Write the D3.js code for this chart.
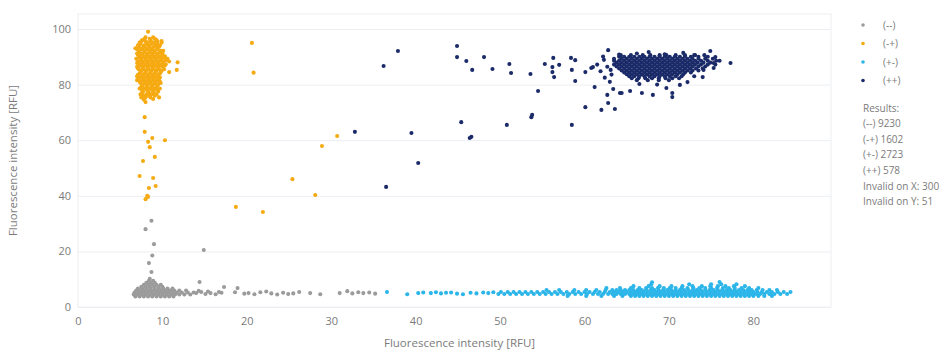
<!DOCTYPE html>
<html>
<head>
<meta charset="utf-8">
<script src="https://d3js.org/d3.v7.min.js"></script>
<style>
    body { margin: 0; background: #fff; }
    text { font-family: "Open Sans", sans-serif; fill: #7b7b7b; }
    .grid line { stroke: #eceef2; stroke-width: 1px; }
    .grid path { display: none; }
    .axis path, .axis line { display: none; }
    .axis text { font-size: 11px; fill: #7b7b7b; }
</style>
</head>
<body>
<svg id="chart" width="948" height="351"></svg>

<script>

// ---- data ----
const xTicks = [0, 10, 20, 30, 40, 50, 60, 70, 80];
const yTicks = [0, 20, 40, 60, 80, 100];
const axisTitle = "Fluorescence intensity [RFU]";

const groups = ["(--)", "(-+)", "(+-)", "(++)"];
const groupColors = ["#9b9b9b", "#f6aa12", "#2bb5e9", "#1b2a68"];
const results = ["Results:", "(--) 9230", "(-+) 1602", "(+-) 2723", "(++) 578",
                 "Invalid on X: 300", "Invalid on Y: 51"];

// dense clusters, as rows: [y, [x, x, ...]]
const grayRows = [
    [3.8, [6.8, 7.3, 7.8, 8.3, 8.8, 9.3, 9.8, 10.3, 10.8, 11.3]],
    [4.5, [6.6, 7.0, 7.5, 8.0, 8.5, 9.0, 9.5, 10.0, 10.5, 11.0, 11.5, 12.0, 12.6, 13.3]],
    [5.2, [6.7, 7.2, 7.7, 8.2, 8.7, 9.2, 9.7, 10.2, 10.7, 11.2, 11.7, 12.3, 13.0, 13.7]],
    [5.9, [6.9, 7.4, 7.9, 8.4, 8.9, 9.4, 9.9, 10.4, 10.9, 11.4, 12.0, 12.8]],
    [6.6, [7.1, 7.6, 8.1, 8.6, 9.1, 9.6, 10.1, 10.6, 11.2]],
    [7.3, [7.5, 8.0, 8.5, 9.0, 9.5, 10.0]],
    [8.0, [7.8, 8.3, 8.8, 9.3, 9.8]],
    [8.7, [8.1, 8.6, 9.1]],
    [9.4, [8.4, 8.9]]
];
const grayPoints = [
    [8.7, 31], [8.0, 28], [9.0, 22.6], [8.8, 18.5], [8.4, 15.8], [8.7, 12.6],
    [14.9, 20.5], [14.4, 9], [17.3, 7.2], [18.9, 6.8], [8.5, 10.1],
    [14.0, 5.0], [14.6, 5.4], [15.1, 4.7], [15.7, 5.0], [16.3, 4.6], [17.0, 5.1],
    [18.6, 5.3], [19.7, 4.8], [20.2, 5.0], [20.9, 4.6], [21.6, 5.3], [22.3, 5.6],
    [22.9, 4.9], [23.6, 4.5], [24.3, 5.1], [24.9, 4.7], [25.5, 4.9], [26.2, 5.4],
    [27.5, 5.0], [28.7, 4.6], [31.0, 5.0], [31.9, 5.7], [32.5, 4.9], [33.2, 5.3],
    [33.8, 5.0], [34.5, 5.2], [35.2, 4.8], [14.3, 5.8], [15.4, 5.6], [16.7, 5.4]
];

const blueRows = [
    [4.0, [58.0, 60.2, 62.0, 63.5, 64.5, 65.5, 66.0, 66.5, 67.0, 67.5, 68.0, 68.5, 69.0,
           69.5, 70.0, 70.5, 71.0, 71.5, 72.0, 72.5, 73.0, 73.5, 74.0, 74.5, 75.0, 75.5,
           76.0, 76.5, 77.0, 77.5, 78.0, 78.5, 79.0, 79.5, 80.0, 80.6, 81.3, 82.2]],
    [4.7, [49.8, 50.5, 51.2, 51.9, 52.6, 53.3, 54.0, 54.7, 55.4, 56.1, 56.8, 57.5, 58.2,
           58.9, 59.6, 60.3, 61.0, 61.6, 62.2, 62.8, 63.3, 63.8, 64.3, 64.8, 65.3, 65.8,
           66.3, 66.8, 67.3, 67.8, 68.3, 68.8, 69.3, 69.8, 70.3, 70.8, 71.3, 71.8, 72.3,
           72.8, 73.3, 73.8, 74.3, 74.8, 75.3, 75.8, 76.3, 76.8, 77.3, 77.8, 78.3, 78.8,
           79.3, 79.8, 80.3, 80.8, 81.3, 81.9, 82.5, 83.2, 84.0]],
    [5.4, [50.1, 50.9, 51.6, 52.3, 53.0, 53.7, 54.4, 55.1, 55.8, 56.5, 57.2, 57.9, 58.6,
           59.3, 60.0, 60.6, 61.2, 61.8, 62.4, 63.0, 63.5, 64.0, 64.5, 65.0, 65.5, 66.0,
           66.5, 67.0, 67.5, 68.0, 68.5, 69.0, 69.5, 70.0, 70.5, 71.0, 71.5, 72.0, 72.5,
           73.0, 73.5, 74.0, 74.5, 75.0, 75.5, 76.0, 76.5, 77.0, 77.5, 78.0, 78.5, 79.0,
           79.5, 80.0, 80.5, 81.0, 81.6, 82.2, 82.9, 83.6, 84.4]],
    [6.1, [55.5, 57.0, 58.8, 60.2, 61.4, 62.5, 63.3, 63.8, 64.3, 64.8, 65.3, 65.8, 66.3,
           66.8, 67.3, 67.8, 68.3, 68.8, 69.3, 69.8, 70.3, 70.8, 71.3, 71.8, 72.3, 72.8,
           73.3, 73.8, 74.3, 74.8, 75.3, 75.8, 76.3, 76.8, 77.3, 77.8, 78.3, 78.8, 79.3,
           79.8, 80.4, 81.1, 81.9, 82.8]],
    [6.8, [62.6, 64.2, 65.5, 66.5, 67.3, 68.0, 68.7, 69.4, 70.1, 70.8, 71.5, 72.2, 72.9,
           73.6, 74.3, 75.0, 75.7, 76.4, 77.1, 77.8, 78.6, 79.5, 80.6]],
    [7.5, [65.8, 67.6, 68.9, 70.3, 71.6, 72.8, 73.9, 74.9, 75.8, 76.7, 77.7, 79.0]],
    [8.2, [67.9, 72.4, 75.0, 76.2, 78.0]]
];
const bluePoints = [
    [36.6, 5.4], [39.0, 4.6], [40.3, 5.0], [40.9, 5.2], [41.8, 5.0], [42.4, 5.3],
    [43.0, 4.9], [43.6, 5.1], [44.2, 5.2], [44.9, 4.8], [45.6, 4.6], [46.5, 5.1],
    [47.2, 4.9], [48.0, 5.2], [48.6, 5.0], [49.2, 5.3], [68.0, 8.9], [76.0, 9.0]
];

const orangeRows = [
    [97.0, [8.0, 8.9]],
    [96.5, [7.9, 8.5, 9.1]],
    [96.0, [7.6, 8.6, 9.3]],
    [95.6, [7.5, 8.0, 8.6, 9.4]],
    [95.1, [7.3, 8.2, 9.0, 9.9]],
    [94.6, [7.4, 8.1, 8.7, 9.4]],
    [94.1, [7.1, 7.8, 8.4, 9.2, 9.7]],
    [93.6, [7.2, 7.8, 8.4, 9.0, 9.6]],
    [93.1, [6.8, 7.5, 8.1, 8.7, 9.4]],
    [92.7, [7.0, 7.6, 8.2, 8.8, 9.4]],
    [92.2, [7.2, 7.9, 8.5, 9.0, 9.8, 10.1]],
    [91.7, [7.3, 7.9, 8.5, 9.1, 9.7]],
    [91.2, [7.0, 7.6, 8.2, 8.8, 9.4, 10.0]],
    [90.7, [7.1, 7.6, 8.2, 8.8, 9.4, 10.0]],
    [90.2, [7.3, 7.9, 8.5, 9.1, 9.7, 10.3]],
    [89.8, [7.2, 7.8, 8.4, 9.0, 9.6, 10.2]],
    [89.3, [6.9, 7.5, 8.1, 8.7, 9.3, 9.9, 10.6]],
    [88.8, [7.4, 8.0, 8.6, 9.2, 9.8, 10.4]],
    [88.3, [7.1, 7.7, 8.3, 8.9, 9.5, 10.1, 10.8]],
    [87.8, [7.0, 7.6, 8.2, 8.8, 9.4, 10.0]],
    [87.3, [7.3, 7.9, 8.5, 9.1, 9.7, 10.4]],
    [86.9, [7.3, 7.9, 8.5, 9.1, 9.7, 10.3]],
    [86.4, [7.0, 7.6, 8.2, 8.8, 9.4, 10.0]],
    [85.9, [7.1, 7.7, 8.3, 8.9, 9.5]],
    [85.5, [7.2, 7.8, 8.4, 9.0, 9.6, 10.2]],
    [85.0, [7.5, 8.1, 8.7, 9.3, 9.9]],
    [84.5, [7.4, 8.0, 8.6, 9.2, 9.8]],
    [84.0, [7.3, 7.9, 8.5, 9.1, 9.7]],
    [83.5, [7.1, 7.7, 8.3, 8.9, 9.5]],
    [83.0, [7.0, 7.6, 8.2, 8.8, 9.4]],
    [82.6, [7.3, 7.9, 8.5, 9.1, 9.7]],
    [82.1, [7.2, 7.8, 8.4, 9.0, 9.6]],
    [81.6, [7.0, 7.6, 8.2, 8.8, 9.4]],
    [81.1, [7.3, 7.9, 8.5, 9.1, 9.7]],
    [80.6, [7.4, 8.0, 8.6, 9.2, 9.8]],
    [80.1, [7.7, 8.3, 8.9, 9.5]],
    [79.6, [7.6, 8.2, 8.8, 9.4]],
    [79.1, [7.5, 8.1, 8.7, 9.3]],
    [78.6, [7.3, 7.9, 8.5, 9.1, 9.7]],
    [78.0, [7.6, 8.2, 8.8, 9.4]],
    [77.5, [7.7, 8.3, 8.9, 9.5]],
    [77.0, [7.6, 8.4, 9.0]],
    [76.5, [7.4, 8.1, 8.7, 9.3]],
    [76.0, [7.8, 8.4, 9.1]],
    [75.4, [7.5, 8.0, 8.6, 9.6]]
];
const orangePoints = [
    [8.3, 99], [9.9, 95.7], [11.8, 88], [11.7, 85.3], [10.8, 84.5], [8.9, 74.8],
    [7.8, 74.6], [8.0, 73.7], [7.9, 68.3], [7.9, 63], [8.8, 60.8], [8.3, 59.4],
    [10.3, 60], [8.5, 57.5], [9.1, 54], [7.7, 52.5], [7.3, 47.1], [8.9, 46.4],
    [8.4, 42.8], [9.2, 43.5], [8.2, 40], [8.0, 38.8], [8.3, 39.6],
    [18.7, 36], [21.9, 34.2], [25.4, 46], [28.1, 40.3], [20.6, 95], [20.8, 84.3],
    [30.7, 61.5], [28.9, 57.9]
];

const navyRows = [
    [90.6, [64.3, 65.5, 66.9, 67.8, 68.9, 69.7, 70.8, 71.9, 73.0, 74.2]],
    [90.0, [64.1, 64.7, 65.3, 65.9, 66.5, 67.1, 67.7, 68.3, 68.9, 69.5, 70.1, 70.7, 71.3,
            71.9, 72.6, 73.5, 74.6]],
    [89.3, [63.5, 64.4, 65.0, 65.6, 66.2, 66.8, 67.4, 68.0, 68.6, 69.2, 69.8, 70.4, 71.0,
            71.6, 72.2, 72.8, 73.5, 74.3, 75.2]],
    [88.6, [63.5, 64.1, 64.7, 65.3, 65.9, 66.5, 67.1, 67.7, 68.3, 68.9, 69.5, 70.1, 70.7,
            71.3, 71.9, 72.5, 73.1, 73.8, 74.6, 75.6]],
    [87.9, [63.8, 64.4, 65.0, 65.6, 66.2, 66.8, 67.4, 68.0, 68.6, 69.2, 69.8, 70.4, 71.0,
            71.6, 72.2, 72.8, 73.4, 74.1, 74.9]],
    [87.2, [63.5, 64.1, 64.7, 65.3, 65.9, 66.5, 67.1, 67.7, 68.3, 68.9, 69.5, 70.1, 70.7,
            71.3, 71.9, 72.5, 73.1, 73.8, 74.6, 75.5]],
    [86.5, [63.8, 64.4, 65.0, 65.6, 66.2, 66.8, 67.4, 68.0, 68.6, 69.2, 69.8, 70.4, 71.0,
            71.6, 72.2, 72.8, 73.5, 74.3]],
    [85.8, [64.1, 64.7, 65.3, 65.9, 66.5, 67.1, 67.7, 68.3, 68.9, 69.5, 70.1, 70.7, 71.3,
            71.9, 72.5, 73.2, 74.0]],
    [85.1, [64.4, 65.0, 65.6, 66.2, 66.8, 67.4, 68.0, 68.6, 69.2, 69.8, 70.4, 71.0, 71.6,
            72.2, 72.8, 73.5]],
    [84.4, [64.7, 65.3, 65.9, 66.5, 67.1, 67.7, 68.3, 68.9, 69.5, 70.1, 70.7, 71.3, 71.9, 72.6]],
    [83.7, [65.0, 65.6, 66.2, 66.8, 67.4, 68.0, 68.6, 69.2, 69.8, 70.4, 71.0, 71.7]],
    [83.0, [65.3, 65.9, 66.5, 67.1, 67.7, 68.3, 68.9, 69.5, 70.1, 70.8, 71.5]],
    [82.3, [65.6, 66.4, 67.2, 68.0, 68.8, 69.6, 70.4, 71.2]],
    [81.6, [66.2, 67.5, 68.8, 70.0]]
];
const navyPoints = [
    [37.9, 92.1], [36.2, 86.7], [44.9, 93.9], [44.9, 89.9], [46.0, 88.5], [46.7, 85.3],
    [48.1, 89.9], [49.1, 85.6], [51.1, 87.4], [51.3, 84.2], [53.6, 83.8], [55.3, 87.4],
    [56.3, 89.6], [56.2, 86.3], [56.2, 84.5], [56.4, 82.7], [57.0, 87.1], [58.4, 89.6],
    [58.9, 88.8], [58.5, 85.3], [60.1, 84.5], [58.9, 81.3], [61.0, 86.3], [54.5, 77.7],
    [61.2, 79.1], [62.8, 92.4], [60.1, 71.9], [62.0, 70.9], [63.6, 71.2], [62.7, 76.3],
    [62.8, 73.4], [63.4, 78.4], [64.2, 77], [53.7, 68.3], [53.8, 69.1], [50.8, 65.5],
    [45.4, 66.5], [46.6, 61.2], [46.4, 60.8], [58.5, 65.5], [32.8, 63], [39.5, 62.6],
    [40.3, 51.8], [36.5, 43.2],
    [60.8, 86.0], [61.5, 87.2], [61.9, 84.8], [62.3, 88.9], [62.7, 86.4], [63.1, 85.3],
    [62.2, 90.1], [63.2, 83.6], [64.1, 90.8], [66.2, 91.2], [67.6, 91.7],
    [69.5, 90.9], [71.7, 91.4], [73.1, 90.6], [74.9, 92.1], [75.5, 89.9], [75.3, 87.8],
    [75.3, 86.0], [74.1, 85.3], [77.3, 87.8], [76.0, 88.6], [74.0, 82.7], [72.2, 80.9],
    [69.7, 78.8], [70.4, 77.0], [70.4, 75.5], [68.1, 76.3], [66.8, 77.0], [65.4, 77.7],
    [64.4, 77.0], [66.5, 80.2], [68.6, 80.0], [71.3, 79.9], [73.0, 83.0], [62.4, 82.5],
    [63.0, 81.0]
];

// ---- svg setup ----
const svg = d3.select("#chart");
const margin = { top: 14, right: 117, bottom: 44, left: 78 };
const plotWidth = 948 - margin.left - margin.right;
const plotHeight = 351 - margin.top - margin.bottom;
const plot = svg.append("g")
    .attr("transform", "translate(" + margin.left + "," + margin.top + ")");

const x = d3.scaleLinear().domain([0, 89.2]).range([0, plotWidth]);
const y = d3.scaleLinear().domain([0, 105.4]).range([plotHeight, 0]);

// frame + grid
plot.append("rect")
    .attr("width", plotWidth).attr("height", plotHeight)
    .attr("fill", "none").attr("stroke", "#eceef2");

plot.append("g").attr("class", "grid")
    .call(d3.axisLeft(y).tickValues(yTicks).tickSize(-plotWidth).tickFormat(""));

// axes
plot.append("g").attr("class", "axis")
    .call(d3.axisLeft(y).tickValues(yTicks).tickSize(0).tickPadding(7));

plot.append("g").attr("class", "axis")
    .attr("transform", "translate(0," + plotHeight + ")")
    .call(d3.axisBottom(x).tickValues(xTicks).tickSize(0).tickPadding(10));

svg.append("text")
    .attr("x", margin.left + x(45.2)).attr("y", 347)
    .attr("text-anchor", "middle").style("font-size", "11.5px")
    .text(axisTitle);

svg.append("text")
    .attr("transform", "translate(17," + (margin.top + plotHeight / 2) + ") rotate(-90)")
    .attr("text-anchor", "middle").style("font-size", "11.5px")
    .text(axisTitle);

// points
const fromRows = rows => rows.flatMap(r => r[1].map(v => [v, r[0]]));
const series = [
    fromRows(grayRows).concat(grayPoints),
    fromRows(orangeRows).concat(orangePoints),
    fromRows(blueRows).concat(bluePoints),
    fromRows(navyRows).concat(navyPoints)
];
const drawOrder = [0, 2, 1, 3];

drawOrder.forEach(i => {
    plot.append("g").selectAll("circle")
        .data(series[i])
        .join("circle")
        .attr("cx", d => x(d[0]))
        .attr("cy", d => y(d[1]))
        .attr("r", 2.05)
        .attr("fill", groupColors[i]);
});

// legend
const legend = svg.append("g").attr("transform", "translate(863,25)");
legend.selectAll("circle").data(groups).join("circle")
    .attr("cx", 0).attr("cy", (d, i) => i * 18.5)
    .attr("r", 1.8).attr("fill", (d, i) => groupColors[i]);
legend.selectAll("text").data(groups).join("text")
    .attr("x", 20).attr("y", (d, i) => i * 18.5).attr("dy", "0.35em")
    .style("font-size", "10px").text(d => d);

svg.append("g").attr("transform", "translate(863,108)")
    .selectAll("text").data(results).join("text")
    .attr("x", 0).attr("y", (d, i) => i * 15.6).attr("dy", "0.35em")
    .style("font-size", "10px").text(d => d);

</script>
</body>
</html>
